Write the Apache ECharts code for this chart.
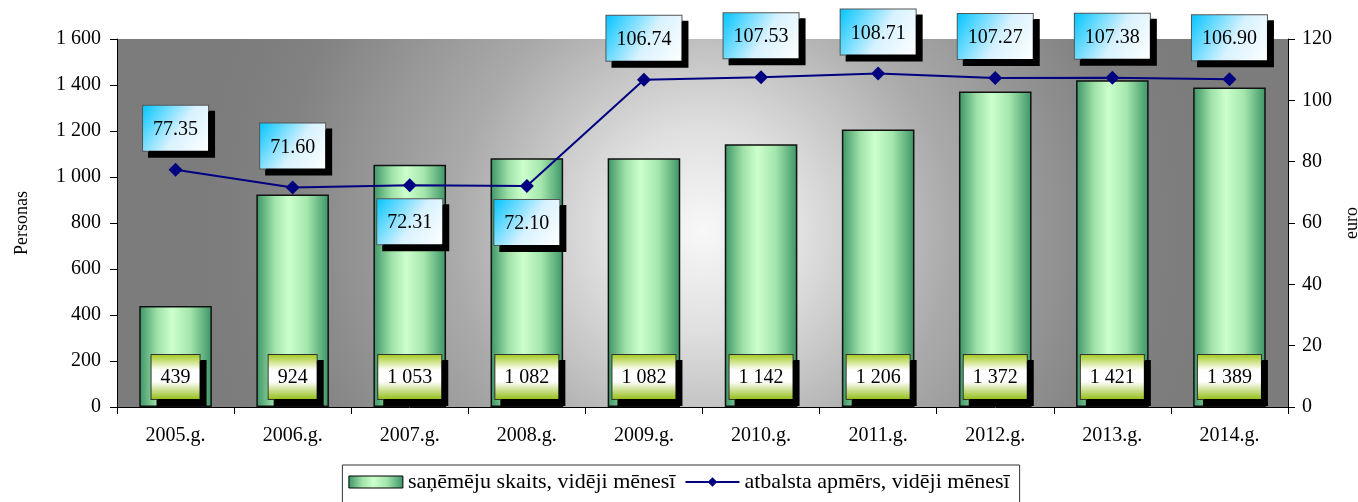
<!DOCTYPE html>
<html>
<head>
<meta charset="utf-8">
<script src="https://cdn.jsdelivr.net/npm/echarts@6/dist/echarts.min.js"></script>
<style>
  html, body { margin: 0; padding: 0; background: #fff; }
  #chart { width: 1358px; height: 502px; }
</style>
</head>
<body>
<div id="chart"></div>
<script>
var years = ['2005.g.', '2006.g.', '2007.g.', '2008.g.', '2009.g.', '2010.g.', '2011.g.', '2012.g.', '2013.g.', '2014.g.'];
var recipients = [439, 924, 1053, 1082, 1082, 1142, 1206, 1372, 1421, 1389];
var support = [77.35, 71.60, 72.31, 72.10, 106.74, 107.53, 108.71, 107.27, 107.38, 106.90];

var serif = 'Liberation Serif';

// 1 053 -> "1 053"
function spaced(v) {
  return String(Math.round(v)).replace(/\B(?=(\d{3})+(?!\d))/g, ' ');
}

var barFill = new echarts.graphic.LinearGradient(0, 0, 1, 0, [
  { offset: 0, color: '#3c9466' },
  { offset: 0.25, color: '#9fe2a8' },
  { offset: 0.45, color: '#ccffcc' },
  { offset: 0.7, color: '#a4e6ac' },
  { offset: 1, color: '#3c9466' }
]);

var barLabelBg = new echarts.graphic.LinearGradient(0, 0, 0, 1, [
  { offset: 0, color: '#a0c818' },
  { offset: 0.35, color: '#ffffff' },
  { offset: 0.6, color: '#ffffff' },
  { offset: 1, color: '#90bc10' }
]);

var lineLabelBg = new echarts.graphic.LinearGradient(0, 0, 1, 1, [
  { offset: 0, color: '#00c4ff' },
  { offset: 0.55, color: '#d8f2ff' },
  { offset: 1, color: '#ffffff' }
]);

var legendText = { fontFamily: serif, fontSize: 22, color: '#000' };

var chart = echarts.init(document.getElementById('chart'));

chart.setOption({
  animation: false,
  textStyle: { fontFamily: serif, color: '#000' },
  grid: {
    left: 117,
    right: 70,
    top: 39,
    bottom: 95,
    outerBoundsMode: 'none',
    show: true,
    borderWidth: 0,
    // light spot in the middle, dark grey edges
    backgroundColor: new echarts.graphic.RadialGradient(0.5, 0.52, 1.35, [
      { offset: 0, color: '#f8f8f8' },
      { offset: 0.2, color: '#e0e0e0' },
      { offset: 0.5, color: '#aaaaaa' },
      { offset: 0.85, color: '#828282' },
      { offset: 1, color: '#7c7c7c' }
    ])
  },
  legend: {
    top: 465,
    left: 'center',
    backgroundColor: '#fff',
    borderColor: '#333',
    borderWidth: 1,
    padding: [6, 10, 14, 6],
    itemGap: 9,
    itemWidth: 54,
    itemHeight: 12,
    textStyle: legendText,
    data: [
      { name: 'saņēmēju skaits, vidēji mēnesī', icon: 'rect', textStyle: legendText, itemStyle: { borderColor: '#000', borderWidth: 1 } },
      { name: 'atbalsta apmērs, vidēji mēnesī', textStyle: legendText }
    ]
  },
  xAxis: {
    type: 'category',
    data: years,
    axisLine: { lineStyle: { color: '#000', width: 1 } },
    axisTick: { show: true, length: 7, lineStyle: { color: '#000' } },
    axisLabel: { fontFamily: serif, fontSize: 20, color: '#000', margin: 19 }
  },
  yAxis: [
    {
      type: 'value',
      min: 0,
      max: 1600,
      interval: 200,
      name: 'Personas',
      nameLocation: 'middle',
      nameGap: 86,
      nameRotate: 90,
      nameTextStyle: { fontFamily: serif, fontSize: 18, color: '#000' },
      axisLine: { show: true, lineStyle: { color: '#000' } },
      axisTick: { show: true, length: 7, lineStyle: { color: '#000' } },
      splitLine: { show: false },
      axisLabel: {
        fontFamily: serif, fontSize: 20, color: '#000', margin: 16,
        formatter: function (v) { return spaced(v); }
      }
    },
    {
      type: 'value',
      min: 0,
      max: 120,
      interval: 20,
      name: 'euro',
      nameLocation: 'middle',
      nameGap: 52,
      nameRotate: 90,
      nameTextStyle: { fontFamily: serif, fontSize: 18, color: '#000' },
      axisLine: { show: true, lineStyle: { color: '#000' } },
      axisTick: { show: true, length: 7, lineStyle: { color: '#000' } },
      splitLine: { show: false },
      axisLabel: { fontFamily: serif, fontSize: 20, color: '#000', margin: 14 }
    }
  ],
  series: [
    {
      name: 'saņēmēju skaits, vidēji mēnesī',
      type: 'bar',
      data: recipients,
      barWidth: '62%',
      itemStyle: { color: barFill, borderColor: '#111', borderWidth: 1.5 },
      label: {
        show: true,
        position: 'insideBottom',
        distance: 8,
        formatter: function (p) { return spaced(p.value); },
        fontFamily: serif,
        fontSize: 20,
        color: '#000',
        backgroundColor: barLabelBg,
        borderColor: '#333',
        borderWidth: 1,
        padding: [13, 9, 11, 9],
        shadowColor: '#000',
        shadowBlur: 0,
        shadowOffsetX: 6,
        shadowOffsetY: 6
      }
    },
    {
      name: 'atbalsta apmērs, vidēji mēnesī',
      type: 'line',
      yAxisIndex: 1,
      data: support.map(function (v, i) {
        var below = (i === 2 || i === 3);
        return { value: v, label: { position: below ? 'bottom' : 'top', distance: below ? 7 : 12 } };
      }),
      symbol: 'diamond',
      symbolSize: 14,
      lineStyle: { color: '#000080', width: 2 },
      itemStyle: { color: '#000080' },
      label: {
        show: true,
        formatter: function (p) { return p.value.toFixed(2); },
        fontFamily: serif,
        fontSize: 20,
        color: '#000',
        backgroundColor: lineLabelBg,
        borderColor: '#555',
        borderWidth: 1,
        padding: [14, 10, 11, 10],
        shadowColor: '#000',
        shadowBlur: 0,
        shadowOffsetX: 6,
        shadowOffsetY: 6
      },
      z: 5
    }
  ]
});
</script>
</body>
</html>
